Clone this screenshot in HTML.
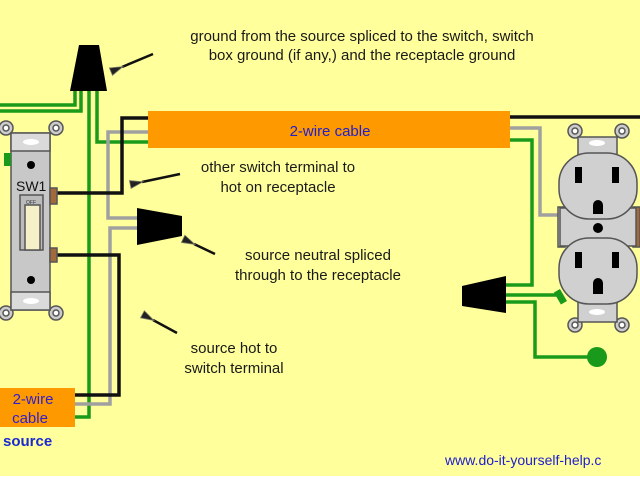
<!DOCTYPE html>
<html><head><style>body{margin:0;background:#fff}svg{display:block}</style></head><body>
<svg width="640" height="480" viewBox="0 0 640 480" xmlns="http://www.w3.org/2000/svg" font-family="Liberation Sans, sans-serif">
<rect x="0" y="0" width="640" height="476" fill="#ffff9c"/>
<defs><marker id="ah" markerUnits="userSpaceOnUse" markerWidth="16" markerHeight="12" refX="2" refY="6" orient="auto"><path d="M14,2 L1,6 L14,10 Z" fill="#222" stroke="#776" stroke-width="0.8"/></marker></defs>
<g fill="none" stroke-width="3.5">
<polyline points="0,105 75,105 75,88" stroke="#1a9a1a"/>
<polyline points="0,111 81,111 81,88" stroke="#1a9a1a"/>
<polyline points="89,88 89,417 75,417" stroke="#1a9a1a"/>
<polyline points="97,88 97,142 148,142" stroke="#1a9a1a"/>
<polyline points="148,132 108,132 108,218 140,218" stroke="#a0a0a0"/>
<polyline points="140,228 110,228 110,404 75,404" stroke="#a0a0a0"/>
<polyline points="148,118 122,118 122,193 57,193" stroke="#111"/>
<polyline points="57,255 119,255 119,395 75,395" stroke="#111"/>
<polyline points="510,117 640,117" stroke="#111"/>
<polyline points="510,128 540,128 540,215 562,215" stroke="#a0a0a0"/>
<polyline points="510,140 532,140 532,285 504,285" stroke="#1a9a1a"/>
<polyline points="504,295 562,295" stroke="#1a9a1a"/>
<polyline points="504,302 535,302 535,357 595,357" stroke="#1a9a1a"/>
</g>
<circle cx="597" cy="357" r="10" fill="#1a9a1a"/>
<polygon points="79,45 99,45 107,91 70,91" fill="#000"/>
<polygon points="137,208 182,216 182,236 137,245" fill="#000"/>
<polygon points="462,286 506,276 506,313 462,306" fill="#000"/>
<rect x="148" y="111" width="362" height="37" fill="#ff9900"/>
<text x="330" y="136" font-size="15" fill="#2020cc" text-anchor="middle">2-wire cable</text>
<rect x="0" y="388" width="75" height="39" fill="#ff9900"/>
<text x="33" y="404" font-size="15" fill="#3020cc" text-anchor="middle">2-wire</text>
<text x="30" y="423" font-size="15" fill="#3020cc" text-anchor="middle">cable</text>
<text x="3" y="446" font-size="15" font-weight="bold" fill="#1a2ad0">source</text>
<g stroke="#555" stroke-width="1.5">
<circle cx="6" cy="128" r="7" fill="#ccc"/><circle cx="56" cy="128" r="7" fill="#ccc"/>
<circle cx="6" cy="313" r="7" fill="#ccc"/><circle cx="56" cy="313" r="7" fill="#ccc"/>
<circle cx="6" cy="128" r="3" fill="#fff"/><circle cx="56" cy="128" r="3" fill="#fff"/>
<circle cx="6" cy="313" r="3" fill="#fff"/><circle cx="56" cy="313" r="3" fill="#fff"/>
<rect x="11" y="133" width="39" height="177" fill="#c8c8c8"/>
<rect x="11" y="133" width="39" height="18" fill="#dadada"/>
<rect x="11" y="292" width="39" height="18" fill="#dadada"/>
<rect x="50" y="188" width="7" height="16" fill="#a06a3a"/>
<rect x="50" y="248" width="7" height="14" fill="#a06a3a"/>
<rect x="20" y="195" width="23" height="55" fill="#bbb"/>
<rect x="25" y="205" width="15" height="45" fill="#f5f0c8"/>
</g>
<rect x="4" y="153" width="7" height="13" fill="#1a9a1a"/>
<ellipse cx="31" cy="142" rx="8" ry="3" fill="#fff"/><ellipse cx="31" cy="301" rx="8" ry="3" fill="#fff"/>
<circle cx="31" cy="165" r="4" fill="#000"/><circle cx="31" cy="280" r="4" fill="#000"/>
<text x="16" y="191" font-size="14" fill="#111">SW1</text>
<text x="26" y="204" font-size="5" fill="#333">OFF</text>
<g stroke="#555" stroke-width="1.5">
<circle cx="575" cy="131" r="7" fill="#ccc"/><circle cx="622" cy="131" r="7" fill="#ccc"/>
<circle cx="575" cy="325" r="7" fill="#ccc"/><circle cx="622" cy="325" r="7" fill="#ccc"/>
<circle cx="575" cy="131" r="3" fill="#fff"/><circle cx="622" cy="131" r="3" fill="#fff"/>
<circle cx="575" cy="325" r="3" fill="#fff"/><circle cx="622" cy="325" r="3" fill="#fff"/>
<rect x="578" y="137" width="39" height="185" fill="#d0d0d0"/>
<rect x="558" y="207" width="7" height="40" fill="#d8d8d8"/>
<rect x="633" y="207" width="7" height="40" fill="#a06a3a"/>
<rect x="560" y="208" width="76" height="38" fill="#d0d0d0"/>
<rect x="559" y="153" width="78" height="66" rx="30" fill="#d0d0d0"/>
<rect x="559" y="238" width="78" height="66" rx="30" fill="#d0d0d0"/>
</g>
<ellipse cx="597" cy="143" rx="8" ry="3" fill="#fff"/><ellipse cx="597" cy="312" rx="8" ry="3" fill="#fff"/>
<g fill="#000">
<rect x="575" y="167" width="7" height="16"/><rect x="612" y="167" width="7" height="16"/>
<path d="M593,214 V205 A5,5 0 0 1 603,205 V214 Z"/>
<rect x="575" y="252" width="7" height="16"/><rect x="612" y="252" width="7" height="16"/>
<path d="M593,294 V283 A5,5 0 0 1 603,283 V294 Z"/>
<circle cx="598" cy="228" r="5"/>
</g>
<rect x="557" y="290" width="7" height="14" fill="#1a9a1a" transform="rotate(-30 560 297)"/>
<g font-size="15" fill="#1a1a1a" text-anchor="middle">
<text x="362" y="41">ground from the source spliced to the switch, switch</text>
<text x="362" y="60">box ground (if any,) and the receptacle ground</text>
<text x="278" y="172">other switch terminal to</text>
<text x="278" y="192">hot on receptacle</text>
<text x="318" y="260">source neutral spliced</text>
<text x="318" y="280">through to the receptacle</text>
<text x="234" y="353">source hot to</text>
<text x="234" y="373">switch terminal</text>
</g>
<text x="445" y="465" font-size="14" fill="#2020cc">www.do-it-yourself-help.c</text>
<g stroke="#111" stroke-width="2.5" marker-end="url(#ah)">
<line x1="153" y1="54" x2="122" y2="67"/>
<line x1="180" y1="174" x2="142" y2="182"/>
<line x1="215" y1="254" x2="194" y2="244"/>
<line x1="177" y1="333" x2="153" y2="320"/>
</g>
</svg>
</body></html>
